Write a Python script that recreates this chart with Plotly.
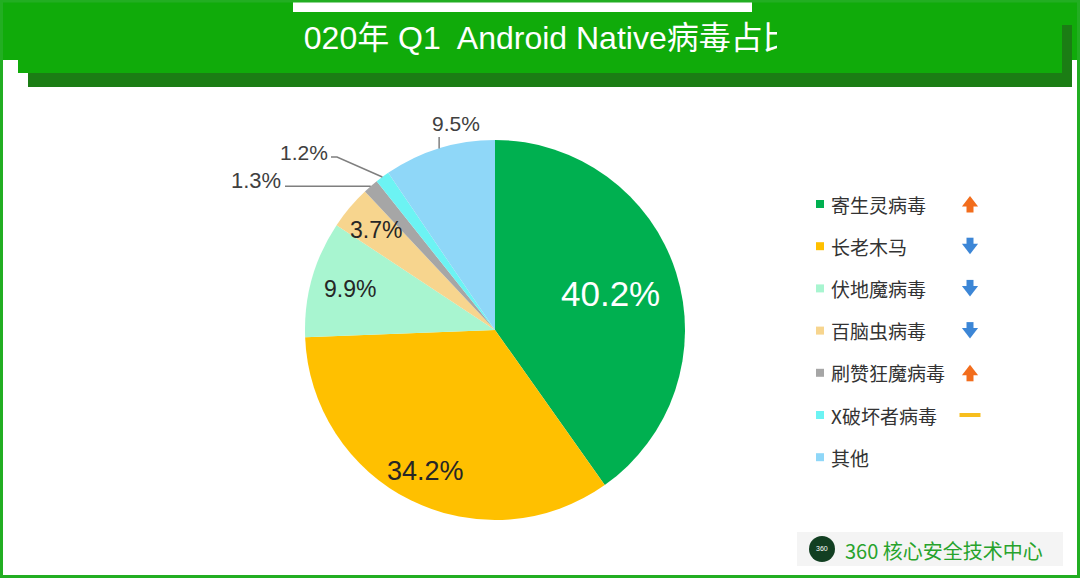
import math
import plotly.graph_objects as go

# ---------------- data ----------------
categories = ["寄生灵病毒", "长老木马", "伏地魔病毒", "百脑虫病毒", "刷赞狂魔病毒", "X破坏者病毒", "其他"]
shares = [40.2, 34.2, 9.9, 3.7, 1.3, 1.2, 9.5]
slice_colors = ["#00B050", "#FFC000", "#A8F5D0", "#F7D58E", "#A6A6A6", "#6CF3F3", "#8FD7F8"]
trends = ["up", "down", "down", "down", "up", "flat", ""]
title_text = "2020年 Q1  Android Native病毒占比"
footer_text = "360 核心安全技术中心"

# ---------------- layout constants ----------------
W, H = 1080, 578
CX, CY, R = 495, 330, 190
GREEN = "#10AB0A"
DARK = "#1B7D14"
CJK = "Noto Sans CJK SC"
LAT = "Liberation Sans, Arial, Noto Sans CJK SC"

fig = go.Figure()

fig.add_trace(go.Pie(
    labels=categories, values=shares, sort=False, direction="clockwise", rotation=0,
    marker=dict(colors=slice_colors, line=dict(width=0)),
    textinfo="none", showlegend=False, hoverinfo="label+percent",
    domain=dict(x=[(CX - R) / W, (CX + R) / W], y=[(H - CY - R) / H, (H - CY + R) / H]),
))

# slice geometry from the data
total = sum(shares)
mids = []
cum = 0.0
for v in shares:
    mids.append(math.radians(360.0 * (cum + v / 2) / total))
    cum += v


def polar(i, frac):
    a = mids[i]
    return CX + frac * R * math.sin(a), CY - frac * R * math.cos(a)


annotations = []
shapes = []

# inside labels
inside = [(0, 0.64, 35, "white"), (1, 0.83, 27, "#262626"), (2, 0.79, 23, "#262626"), (3, 0.82, 23, "#262626")]
for i, f, sz, col in inside:
    x, y = polar(i, f)
    annotations.append(dict(x=x, y=y, xref="x", yref="y", text=f"{shares[i]}%", showarrow=False,
                            font=dict(family=LAT, size=sz, color=col)))

# outside labels with leader lines
ex, ey = polar(4, 1.0)
shapes.append(dict(type="path", xref="x", yref="y", path=f"M{ex},{ey} L{ex-5},{ey} L285,{ey}",
                   line=dict(color="#7F7F7F", width=1.5)))
annotations.append(dict(x=283, y=180, xref="x", yref="y", xanchor="right", text=f"{shares[4]}%",
                        showarrow=False, font=dict(family=LAT, size=22, color="#404040")))
ex, ey = polar(5, 1.0)
shapes.append(dict(type="path", xref="x", yref="y", path=f"M{ex},{ey} L337,157 L331,157",
                   line=dict(color="#7F7F7F", width=1.5)))
annotations.append(dict(x=330, y=152, xref="x", yref="y", xanchor="right", text=f"{shares[5]}%",
                        showarrow=False, font=dict(family=LAT, size=21, color="#404040")))
ex, ey = polar(6, 1.0)
shapes.append(dict(type="path", xref="x", yref="y", path=f"M{ex},{ey} L{ex},137",
                   line=dict(color="#7F7F7F", width=1.5)))
annotations.append(dict(x=456, y=123, xref="x", yref="y", text=f"{shares[6]}%",
                        showarrow=False, font=dict(family=LAT, size=21, color="#404040")))

# custom legend
row_y = [204 + 42.2 * i for i in range(len(categories))]
fig.add_trace(go.Scatter(x=[820] * len(categories), y=row_y, mode="markers",
                         marker=dict(symbol="square", size=8, color=slice_colors, line=dict(width=0)),
                         hoverinfo="skip", showlegend=False))
for i, c in enumerate(categories):
    annotations.append(dict(x=829, y=row_y[i], xref="x", yref="y", xanchor="left", text=c,
                            showarrow=False, font=dict(family=CJK, size=19, color="#333333")))

# trend arrows
ORANGE, BLUE, YELLOW = "#F26D1C", "#3C86D6", "#F7BE1E"
hx, hy, hs, hc, sx, sy, sc = [], [], [], [], [], [], []
for i, t in enumerate(trends):
    if t == "up":
        hx.append(970); hy.append(row_y[i] - 1); hs.append("triangle-up"); hc.append(ORANGE)
        sx.append(970); sy.append(row_y[i] + 5); sc.append(ORANGE)
    elif t == "down":
        hx.append(970); hy.append(row_y[i] + 1); hs.append("triangle-down"); hc.append(BLUE)
        sx.append(970); sy.append(row_y[i] - 5); sc.append(BLUE)
fig.add_trace(go.Scatter(x=sx, y=sy, mode="markers", marker=dict(symbol="square", size=7, color=sc, line=dict(width=0)),
                         hoverinfo="skip", showlegend=False))
fig.add_trace(go.Scatter(x=hx, y=hy, mode="markers", marker=dict(symbol=hs, size=14, color=hc, line=dict(width=0)),
                         hoverinfo="skip", showlegend=False))
fx = [970 for t in trends if t == "flat"]
fy = [row_y[i] for i, t in enumerate(trends) if t == "flat"]
fig.add_trace(go.Scatter(x=fx, y=fy, mode="markers",
                         marker=dict(symbol="line-ew", size=15, line=dict(width=4, color=YELLOW)),
                         hoverinfo="skip", showlegend=False))

# banner title, clipped to its text box like in the original slide
fig.add_trace(go.Scatter(x=[286], y=[41], mode="text", text=[title_text], textposition="middle right",
                         textfont=dict(family=LAT, size=32, color="white"), cliponaxis=True,
                         xaxis="x2", yaxis="y2", hoverinfo="skip", showlegend=False))


def rect(x0, y0, x1, y1, fill, layer="below"):
    return dict(type="rect", xref="x", yref="y", x0=x0, y0=y0, x1=x1, y1=y1,
                fillcolor=fill, line=dict(width=0), layer=layer)


# frame and banner
shapes = [
    rect(3, 0, 1077, 60, GREEN),
    rect(28, 25, 1072, 87, DARK),
    rect(18, 0, 1062, 73, GREEN),
    rect(293, 2, 752, 12, "white"),
    dict(type="rect", xref="x", yref="y", x0=1.5, y0=1, x1=1078.5, y1=576.5,
         line=dict(color="#22AE22", width=3), layer="below"),
    rect(797, 532, 1063, 566, "#F4F4F4"),
    dict(type="circle", xref="x", yref="y", x0=809, y0=536, x1=835, y1=562,
         fillcolor="#123F22", line=dict(width=0), layer="below"),
] + shapes

annotations.append(dict(x=822, y=548, xref="x", yref="y", text="360", showarrow=False,
                        font=dict(family=LAT, size=7, color="white")))
annotations.append(dict(x=843, y=550, xref="x", yref="y", xanchor="left", text=footer_text, showarrow=False,
                        font=dict(family=CJK, size=20, color="#27A32C")))

fig.update_layout(
    width=W, height=H, margin=dict(l=0, r=0, t=0, b=0),
    paper_bgcolor="white", plot_bgcolor="rgba(0,0,0,0)",
    xaxis=dict(range=[0, W], domain=[0, 1], visible=False, fixedrange=True),
    yaxis=dict(range=[H, 0], domain=[0, 1], visible=False, fixedrange=True),
    xaxis2=dict(range=[303, 777], domain=[303 / W, 777 / W], anchor="y2", visible=False, fixedrange=True),
    yaxis2=dict(range=[60, 0], domain=[(H - 60) / H, 1], anchor="x2", visible=False, fixedrange=True),
    shapes=shapes, annotations=annotations, showlegend=False,
)

fig.write_html("out.html", config={"displayModeBar": False},
               post_script="document.body.style.margin='0px';document.body.style.overflow='hidden';")
